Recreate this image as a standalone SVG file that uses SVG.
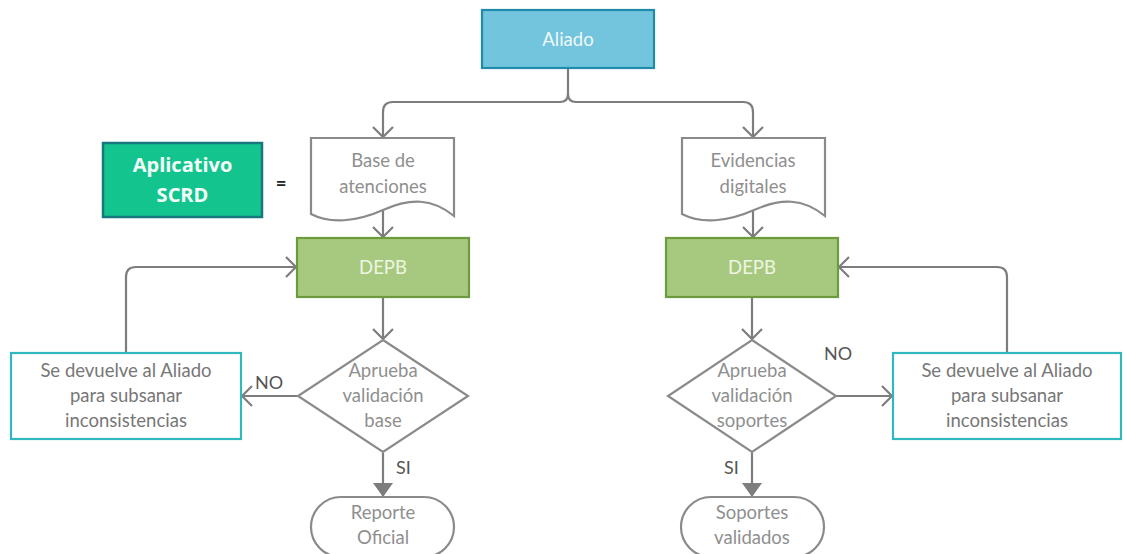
<svg xmlns="http://www.w3.org/2000/svg" width="1126" height="554" viewBox="0 0 1126 554">
<style>
.t{font-family:Lato,"Open Sans","Liberation Sans",sans-serif;font-size:18.5px;text-anchor:middle}
.g{fill:#8f8f8f}
.ln{fill:none;stroke:#7d7d7d;stroke-width:2.2}
.sh{fill:#fff;stroke:#8a8a8a;stroke-width:2.2}
.ret{fill:#fff;stroke:#2fb8bd;stroke-width:2.2}
.depb{fill:#a7c97f;stroke:#6c9a3c;stroke-width:2.2}
.lab{font-family:Lato,"Open Sans","Liberation Sans",sans-serif;font-size:18px;fill:#555}
.ap{font-family:"Open Sans",Lato,"Liberation Sans",sans-serif;font-size:20px;font-weight:bold;fill:#f4fff9;text-anchor:middle}
</style>
<defs>
<marker id="open" viewBox="0 0 12 22" refX="11" refY="11" markerWidth="12" markerHeight="22" markerUnits="userSpaceOnUse" orient="auto">
<path d="M1,1 L11,11 L1,21" fill="none" stroke="#7d7d7d" stroke-width="2.2"/>
</marker>
<marker id="fill" viewBox="0 0 14 20" refX="13" refY="10" markerWidth="14" markerHeight="20" markerUnits="userSpaceOnUse" orient="auto">
<path d="M0,0 L14,10 L0,20 Z" fill="#7d7d7d"/>
</marker>
</defs>
<g id="connectors">
<path class="ln" d="M568,68 V94 Q568,102 560,102 H393 Q383,102 383,112 V137" marker-end="url(#open)"/>
<path class="ln" d="M568,94 Q568,102 576,102 H743 Q753,102 753,112 V137" marker-end="url(#open)"/>
<path class="ln" d="M383,208 V237" marker-end="url(#open)"/>
<path class="ln" d="M753,206 V237" marker-end="url(#open)"/>
<path class="ln" d="M383,297 V339" marker-end="url(#open)"/>
<path class="ln" d="M752,297 V339" marker-end="url(#open)"/>
<path class="ln" d="M298,396 H242" marker-end="url(#open)"/>
<path class="ln" d="M836,396 H892" marker-end="url(#open)"/>
<path class="ln" d="M126,353 V277 Q126,267 136,267 H296" marker-end="url(#open)"/>
<path class="ln" d="M1007,353 V277 Q1007,267 997,267 H839" marker-end="url(#open)"/>
<path class="ln" d="M383,453 V496" marker-end="url(#fill)"/>
<path class="ln" d="M752,453 V496" marker-end="url(#fill)"/>
<text class="lab" x="255" y="389">NO</text>
<text class="lab" x="824" y="360">NO</text>
<text class="lab" x="396" y="474">SI</text>
<text class="lab" x="724" y="474">SI</text>
</g>
<g id="aliado">
<rect x="482" y="10" width="172" height="58" fill="#73c4dd" stroke="#1f8cab" stroke-width="2.2"/>
<text class="t" x="568" y="46" fill="#eef8fb" font-size="19">Aliado</text>
</g>
<g id="aplicativo">
<rect x="103" y="143" width="159" height="74" fill="#14c48f" stroke="#16777e" stroke-width="2.5"/>
<text class="ap" x="182.5" y="172">Aplicativo</text>
<text class="ap" x="182.5" y="202">SCRD</text>
</g>
<g id="equals">
<text class="t" x="281" y="190" fill="#222" font-weight="bold" font-size="24">=</text>
</g>
<g id="base">
<path class="sh" d="M311,138 H454 V216 C432,198 410,198 383,210 C356,222 330,224 311,214 Z"/>
<text class="t g" x="383" y="167">Base de</text>
<text class="t g" x="383" y="193">atenciones</text>
</g>
<g id="evidencias">
<path class="sh" d="M682,138 H825 V216 C803,198 781,198 754,210 C727,222 701,224 682,214 Z"/>
<text class="t g" x="753" y="167">Evidencias</text>
<text class="t g" x="753" y="193">digitales</text>
</g>
<g id="depb-left">
<rect class="depb" x="297" y="238" width="172" height="59"/>
<text class="t" x="383" y="274" fill="#eef5e4" font-size="19">DEPB</text>
</g>
<g id="depb-right">
<rect class="depb" x="666" y="238" width="172" height="59"/>
<text class="t" x="752" y="274" fill="#eef5e4" font-size="19">DEPB</text>
</g>
<g id="dec-left">
<path class="sh" d="M383,340 L468,396 L383,452 L298,396 Z"/>
<text class="t g" x="383" y="377">Aprueba</text>
<text class="t g" x="383" y="402">validación</text>
<text class="t g" x="383" y="427">base</text>
</g>
<g id="dec-right">
<path class="sh" d="M752,340 L836,396 L752,452 L668,396 Z"/>
<text class="t g" x="752" y="377">Aprueba</text>
<text class="t g" x="752" y="402">validación</text>
<text class="t g" x="752" y="427">soportes</text>
</g>
<g id="ret-left">
<rect class="ret" x="11" y="353" width="230" height="86"/>
<text class="t" x="126" y="377" fill="#777">Se devuelve al Aliado</text>
<text class="t" x="126" y="402" fill="#777">para subsanar</text>
<text class="t" x="126" y="427" fill="#777">inconsistencias</text>
</g>
<g id="ret-right">
<rect class="ret" x="893" y="353" width="228" height="86"/>
<text class="t" x="1007" y="377" fill="#777">Se devuelve al Aliado</text>
<text class="t" x="1007" y="402" fill="#777">para subsanar</text>
<text class="t" x="1007" y="427" fill="#777">inconsistencias</text>
</g>
<g id="reporte">
<rect class="sh" x="311" y="497" width="143" height="60" rx="30"/>
<text class="t g" x="383" y="519">Reporte</text>
<text class="t g" x="383" y="544">Oficial</text>
</g>
<g id="soportes">
<rect class="sh" x="681" y="497" width="143" height="60" rx="30"/>
<text class="t g" x="752" y="519">Soportes</text>
<text class="t g" x="752" y="544">validados</text>
</g>
</svg>
